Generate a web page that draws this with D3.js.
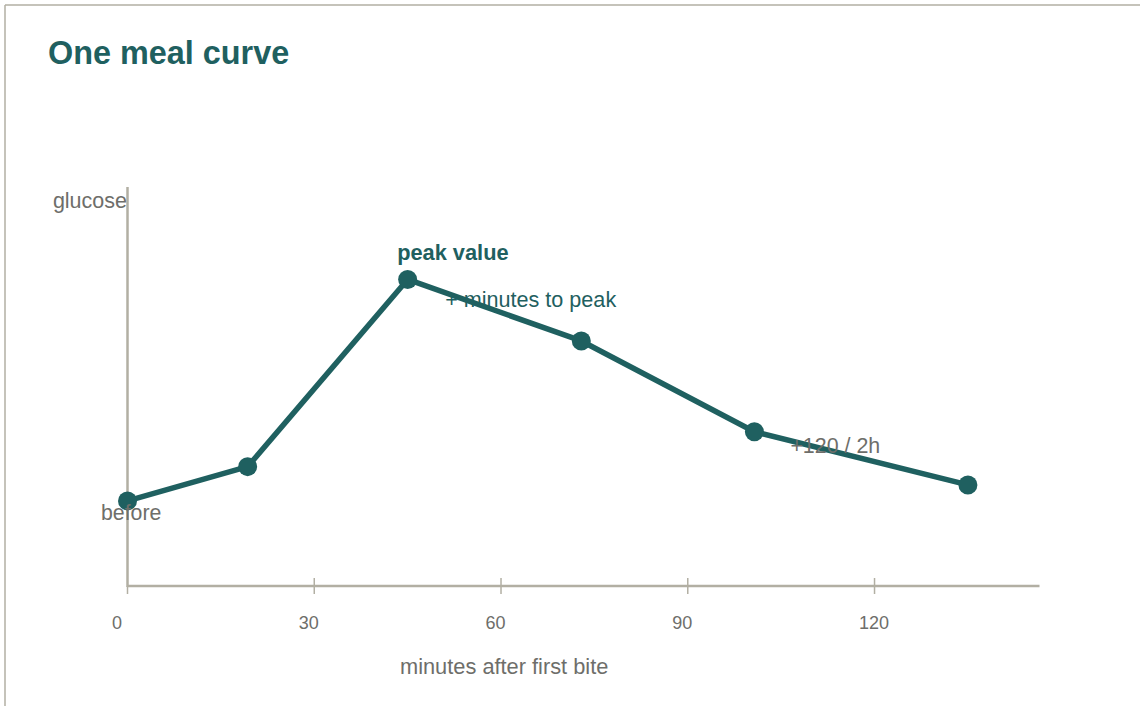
<!DOCTYPE html>
<html>
<head>
<meta charset="utf-8">
<script src="https://cdn.jsdelivr.net/npm/d3@7"></script>
<style>
  html, body { margin: 0; padding: 0; background: #fff; }
  svg { display: block; font-family: "Liberation Sans", Arial, sans-serif; }
</style>
</head>
<body>
<svg id="chart" width="1140" height="706"></svg>
<script>
// Data
const minutes = [0, 19.3, 45, 72.9, 100.7, 135];
const glucose = [85.6, 95.9, 152.2, 133.7, 106.4, 90.4];
const xTicks = [0, 30, 60, 90, 120];
const title = "One meal curve";
const xLabel = "minutes after first bite";
const yLabel = "glucose";

const teal = "#1f6060";
const gray = "#6e6e6a";
const axisColor = "#b2afa3";

const svg = d3.select("#chart");

// card border (top and left visible)
svg.append("line").attr("x1", 5).attr("y1", 5).attr("x2", 1140).attr("y2", 5)
  .attr("stroke", axisColor).attr("stroke-width", 1.5);
svg.append("line").attr("x1", 5).attr("y1", 5).attr("x2", 5).attr("y2", 706)
  .attr("stroke", axisColor).attr("stroke-width", 1.5);

svg.append("text").attr("x", 48).attr("y", 64)
  .attr("font-size", 32.4).attr("font-weight", "bold").attr("fill", teal)
  .text(title);

const x = d3.scaleLinear().domain([0, 146.5]).range([127.5, 1039.5]);
const y = d3.scaleLinear().domain([60, 180]).range([586, 187]);

// x axis
svg.append("line").attr("x1", x(0)).attr("x2", x(146.5)).attr("y1", 586).attr("y2", 586)
  .attr("stroke", axisColor).attr("stroke-width", 2.5);
svg.selectAll(".tick").data(xTicks).enter().append("line")
  .attr("x1", d => x(d)).attr("x2", d => x(d))
  .attr("y1", d => d === 0 ? 586 : 578).attr("y2", 594)
  .attr("stroke", axisColor).attr("stroke-width", 1.5);
svg.selectAll(".tl").data(xTicks).enter().append("text")
  .attr("x", d => x(d) - 15.5).attr("y", 629)
  .attr("font-size", 18).attr("fill", gray)
  .text(d => d);

// y axis
svg.append("line").attr("x1", x(0)).attr("x2", x(0)).attr("y1", 187).attr("y2", 587)
  .attr("stroke", axisColor).attr("stroke-width", 2.5);

svg.append("text").attr("x", 127).attr("y", 208).attr("text-anchor", "end")
  .attr("font-size", 21.5).attr("fill", gray).text(yLabel);
svg.append("text").attr("x", 400).attr("y", 674)
  .attr("font-size", 21.8).attr("fill", gray).text(xLabel);

const data = minutes.map((m, i) => ({ m, g: glucose[i] }));

svg.append("path").datum(data)
  .attr("fill", "none").attr("stroke", teal).attr("stroke-width", 5.5)
  .attr("stroke-linejoin", "round")
  .attr("d", d3.line().x(d => x(d.m)).y(d => y(d.g)));

svg.selectAll(".pt").data(data).enter().append("circle")
  .attr("cx", d => x(d.m)).attr("cy", d => y(d.g)).attr("r", 9.5)
  .attr("fill", teal);

// annotations
const peak = data[2];
svg.append("text").attr("x", x(0) - 26.5).attr("y", y(data[0].g) + 19)
  .attr("font-size", 21.3).attr("fill", gray).text("before");
svg.append("text").attr("x", x(peak.m) - 10.5).attr("y", y(peak.g) - 19)
  .attr("font-size", 21.8).attr("font-weight", "bold").attr("fill", teal).text("peak value");
svg.append("text").attr("x", x(peak.m) + 37.5).attr("y", y(peak.g) + 27.5)
  .attr("font-size", 21.6).attr("fill", teal).text("+ minutes to peak");
svg.append("text").attr("x", x(data[4].m) + 36).attr("y", y(data[4].g) + 21.5)
  .attr("font-size", 21.4).attr("fill", gray).text("+120 / 2h");
</script>
</body>
</html>
